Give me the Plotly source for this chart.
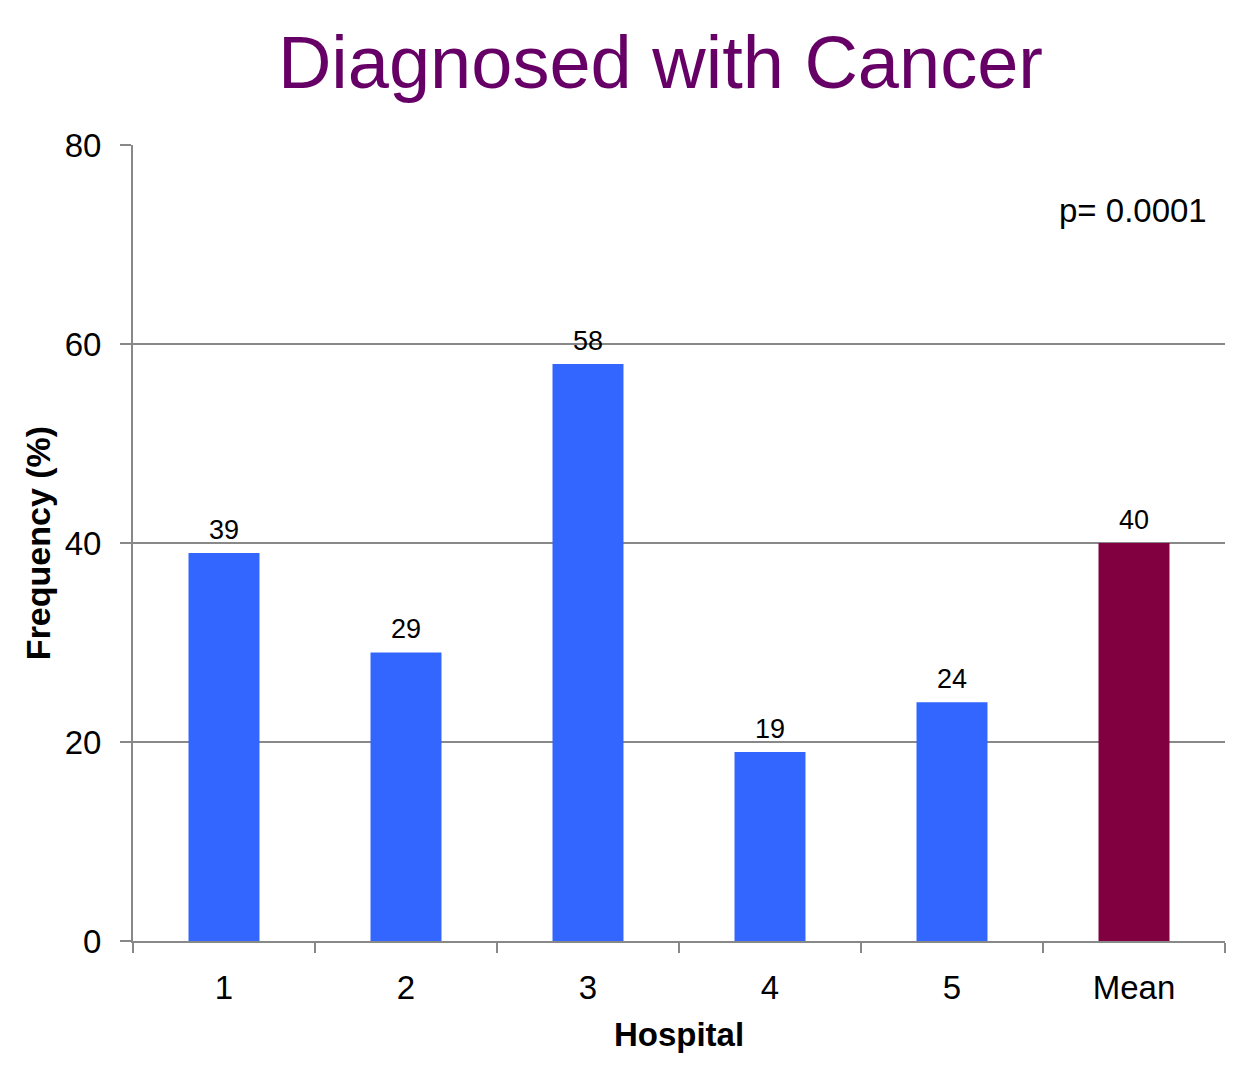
import plotly.graph_objects as go

# Share of patients diagnosed with cancer, per hospital and overall mean
hospitals = ["1", "2", "3", "4", "5", "Mean"]
frequency = [39, 29, 58, 19, 24, 40]
bar_colors = ["#3366FF", "#3366FF", "#3366FF", "#3366FF", "#3366FF", "#800040"]
y_ticks = [0, 20, 40, 60, 80]
p_value_text = "p= 0.0001"

FONT = "Liberation Sans, Arial, sans-serif"
GRID = "#888888"

fig = go.Figure()
fig.add_trace(go.Bar(
    x=hospitals,
    y=frequency,
    marker=dict(color=bar_colors, line=dict(width=0)),
    width=0.39,
))

# Value labels sitting just above each bar (category index positions)
for idx, val in enumerate(frequency):
    fig.add_annotation(
        x=idx, y=val, xref="x", yref="y",
        text=str(val), showarrow=False,
        yanchor="bottom", yshift=6,
        font=dict(family=FONT, size=27, color="#000000"),
    )

fig.add_annotation(
    text=p_value_text,
    xref="paper", x=0.985, xanchor="right",
    yref="y", y=73.4, yanchor="middle",
    showarrow=False,
    font=dict(family=FONT, size=33, color="#000000"),
)

fig.update_layout(
    width=1237, height=1066,
    margin=dict(l=133, r=12, t=145, b=125),
    paper_bgcolor="white", plot_bgcolor="white",
    showlegend=False,
    title=dict(
        text="Diagnosed with Cancer",
        font=dict(family=FONT, size=74, color="#660066"),
        x=(133 + 1225) / 2 / 1237 - 0.015, xanchor="center",
        y=1 - 62 / 1066, yanchor="middle",
    ),
    xaxis=dict(
        type="category",
        showgrid=False,
        showline=True, linecolor=GRID, linewidth=2,
        ticks="outside", tickson="boundaries", ticklen=10,
        tickcolor=GRID, tickwidth=2,
        ticklabelstandoff=16,
        tickfont=dict(family=FONT, size=33, color="#000000"),
        title=dict(text="<b>Hospital</b>", standoff=18,
                   font=dict(family=FONT, size=33, color="#000000")),
    ),
    yaxis=dict(
        range=[0, 80],
        tickvals=y_ticks,
        showgrid=True, gridcolor=GRID, gridwidth=2,
        zeroline=False,
        showline=True, linecolor=GRID, linewidth=2,
        ticks="outside", ticklen=11, tickcolor=GRID, tickwidth=2,
        ticklabelstandoff=12,
        tickfont=dict(family=FONT, size=33, color="#000000"),
        title=dict(text="<b>Frequency (%)</b>", standoff=4,
                   font=dict(family=FONT, size=34, color="#000000")),
    ),
    bargap=0.61,
)

fig.write_html("out.html")
